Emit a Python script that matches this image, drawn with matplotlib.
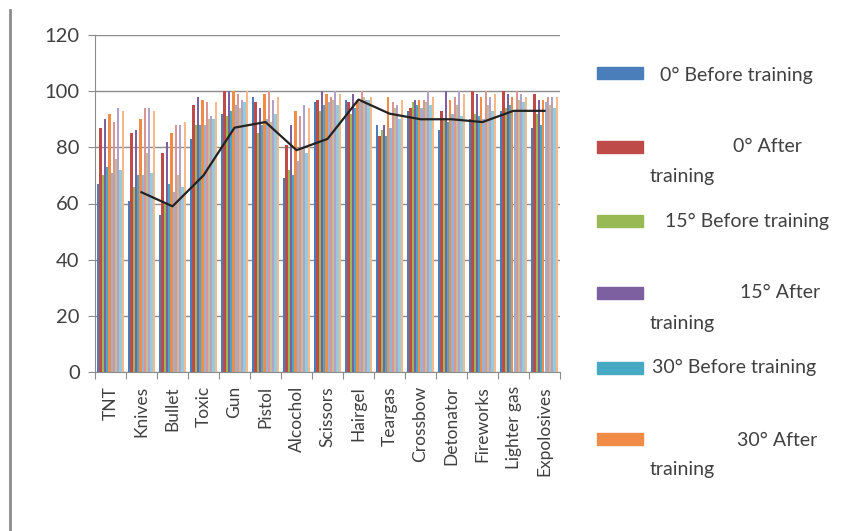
import numpy as np
import matplotlib
matplotlib.use('Agg')
import matplotlib.pyplot as plt
from matplotlib.lines import Line2D
from matplotlib.patches import Rectangle

plt.rcParams['font.family'] = ['Lato', 'DejaVu Sans']

categories = ['TNT', 'Knives', 'Bullet', 'Toxic', 'Gun', 'Pistol', 'Alcochol', 'Scissors',
              'Hairgel', 'Teargas', 'Crossbow', 'Detonator', 'Fireworks', 'Lighter gas', 'Expolosives']

# legend series
before_0 = [67, 61, 56, 83, 92, 98, 69, 96, 97, 88, 93, 86, 90, 93, 87]
after_0 = [87, 85, 78, 95, 100, 96, 81, 97, 96, 84, 94, 93, 100, 100, 99]
before_15 = [70, 66, 60, 88, 91, 85, 72, 93, 92, 86, 96, 90, 92, 94, 92]
after_15 = [90, 86, 82, 98, 100, 94, 88, 100, 99, 88, 97, 100, 99, 99, 97]
before_30 = [73, 70, 67, 88, 93, 88, 70, 95, 94, 84, 95, 89, 91, 95, 88]
after_30 = [92, 90, 85, 97, 100, 99, 93, 99, 97, 98, 97, 97, 98, 98, 97]
# further series (not named in the visible legend)
extra_1 = [71, 70, 64, 88, 95, 90, 75, 96, 96, 87, 94, 92, 90, 93, 96]
extra_2 = [89, 94, 88, 96, 99, 100, 91, 98, 100, 96, 97, 98, 100, 100, 98]
extra_3 = [76, 78, 70, 90, 94, 89, 80, 97, 98, 94, 96, 95, 95, 97, 95]
extra_4 = [94, 94, 88, 91, 97, 97, 95, 100, 97, 95, 100, 100, 98, 99, 98]
extra_5 = [72, 71, 66, 90, 96, 92, 78, 95, 97, 90, 95, 91, 93, 96, 94]
extra_6 = [93, 93, 89, 96, 100, 98, 94, 99, 98, 97, 98, 99, 99, 98, 98]

# moving-average trend line
trend = [np.nan, 64, 59, 70, 87, 89, 79, 83, 97, 92, 90, 90, 89, 93, 93]

series = [before_0, after_0, before_15, after_15, before_30, after_30,
          extra_1, extra_2, extra_3, extra_4, extra_5, extra_6]
colors = ['#4A7EBB', '#BE4B48', '#98B954', '#7D60A0', '#46AAC5', '#F08C45',
          '#95B3D7', '#D99694', '#C4BD97', '#B3A2C7', '#93CDDD', '#F5B98A']

fig = plt.figure(figsize=(8.67, 5.31), dpi=100)
ax = fig.add_axes([95 / 867, 1 - 372 / 531, (560 - 95) / 867, (372 - 35) / 531])

x = np.arange(len(categories))
n = len(series)
bw = 0.87 / n
for i, (vals, c) in enumerate(zip(series, colors)):
    ax.bar(x - 0.435 + bw * (i + 0.5), vals, width=bw, color=c, zorder=2, linewidth=0)

ax.plot(x, trend, color='#222222', lw=1.6, zorder=3)

ax.set_xlim(-0.5, len(categories) - 0.5)
ax.set_ylim(0, 120)
ax.set_yticks(range(0, 121, 20))
ax.yaxis.grid(True, color='#8c8c8c', lw=1, zorder=0)
ax.set_axisbelow(True)
for s in ['top', 'right']:
    ax.spines[s].set_visible(False)
for s in ['left', 'bottom']:
    ax.spines[s].set_color('#8c8c8c')
ax.tick_params(axis='y', colors='#8c8c8c', labelcolor='#404040', labelsize=14.5, length=5, pad=6)
ax.set_xticks(np.arange(-0.5, len(categories), 1))
ax.set_xticklabels([])
ax.tick_params(axis='x', colors='#8c8c8c', length=5)
for xi, name in zip(x, categories):
    ax.text(xi, -5, name, rotation=90, ha='center', va='top', fontsize=12.5, color='#404040')

# frame line on the left
fig.add_artist(Line2D([10 / 867, 10 / 867], [0, 1 - 10 / 531], color='#8c8c8c', lw=2))

# legend, laid out like the original
def px(xp, yp):
    return xp / 867, 1 - yp / 531

entries = [
    (73, [(660, 75, '0° Before training')]),
    (147, [(733, 147, '0° After'), (650, 177, 'training')]),
    (221, [(665, 221, '15° Before training')]),
    (293, [(740, 292, '15° After'), (650, 323, 'training')]),
    (368, [(652, 367, '30° Before training')]),
    (439, [(737, 440, '30° After'), (650, 470, 'training')]),
]
for (py, texts), c in zip(entries, colors[:6]):
    x0, y0 = px(597, py + 6)
    fig.add_artist(Rectangle((x0, y0), 46 / 867, 12 / 531, color=c, transform=fig.transFigure))
    for tx, ty, t in texts:
        fx, fy = px(tx, ty)
        fig.text(fx, fy, t, fontsize=14, color='#404040', va='center', ha='left')

fig.savefig('out.png', dpi=100)
